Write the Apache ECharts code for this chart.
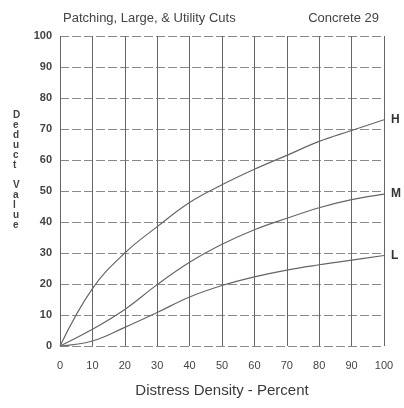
<!DOCTYPE html>
<html><head><meta charset="utf-8">
<script src="https://cdn.jsdelivr.net/npm/echarts@6/dist/echarts.min.js"></script>
<style>html,body{margin:0;padding:0;background:#fff}#c{width:404px;height:408px}</style>
</head><body><div id="c"></div>
<script>
var titleLeft = 'Patching, Large, & Utility Cuts';
var titleRight = 'Concrete 29';
var xName = 'Distress Density - Percent';
var yName = 'Deduct Value';
var density = [0, 10, 20, 30, 40, 50, 60, 70, 80, 90, 100];
var highVals = [0, 18.5, 30, 38.5, 46.3, 52, 57, 61.5, 66, 69.5, 73];
var medVals  = [0, 5.4, 11.8, 19.8, 27, 32.8, 37.5, 41.2, 44.6, 47.2, 49];
var lowVals  = [0, 1.6, 6, 10.8, 15.8, 19.5, 22.3, 24.5, 26.2, 27.7, 29.2];
var seriesNames = ['H', 'M', 'L'];

var FONT = "'Liberation Sans Narrow','Arial Narrow','Liberation Sans',sans-serif";
var TXT = '#444';
function pairs(v){ return density.map(function(x,i){ return [x, v[i]]; }); }
function mk(name, vals){
  return {
    name: name, type: 'line', data: pairs(vals), smooth: 0.4, symbol: 'none',
    lineStyle: {color: '#666', width: 1.2},
    endLabel: {show: true, formatter: name, distance: 7, color: '#333',
      fontFamily: FONT, fontWeight: 'bold', fontSize: 12},
    silent: true, animation: false
  };
}
var chart = echarts.init(document.getElementById('c'), null, {renderer: 'canvas'});
chart.setOption({
  backgroundColor: '#fff',
  animation: false,
  title: [
    {text: titleLeft, left: 58, top: 7, textStyle: {fontFamily: FONT, fontSize: 13, fontWeight: 'normal', color: TXT}},
    {text: titleRight, right: 20, top: 7, textStyle: {fontFamily: FONT, fontSize: 13, fontWeight: 'normal', color: TXT}}
  ],
  grid: {left: 60, right: 20, top: 36, bottom: 62},
  xAxis: {
    type: 'value', min: 0, max: 100, interval: 10,
    name: xName, nameLocation: 'middle', nameGap: 37,
    nameTextStyle: {fontFamily: FONT, fontSize: 15, color: '#3a3a3a'},
    axisLine: {show: false},
    axisTick: {show: false},
    axisLabel: {fontFamily: FONT, fontSize: 11, color: TXT, margin: 14},
    splitLine: {show: true, lineStyle: {color: '#666', width: 1, type: 'solid'}}
  },
  yAxis: {
    type: 'value', min: 0, max: 100, interval: 10,
    axisLine: {show: false},
    axisTick: {show: false},
    axisLabel: {fontFamily: FONT, fontSize: 11, fontWeight: 'bold', color: TXT, margin: 8},
    splitLine: {show: true, lineStyle: {color: '#8a8a8a', width: 1, type: [9, 3]}}
  },
  graphic: [{
    type: 'text', left: 13, top: 110,
    style: {text: yName.split('').join('\n'), fontFamily: FONT, fontSize: 10, fontWeight: 'bold',
      fill: TXT, lineHeight: 10, align: 'center'}
  }],
  series: [mk(seriesNames[0], highVals), mk(seriesNames[1], medVals), mk(seriesNames[2], lowVals)]
});
</script></body></html>
